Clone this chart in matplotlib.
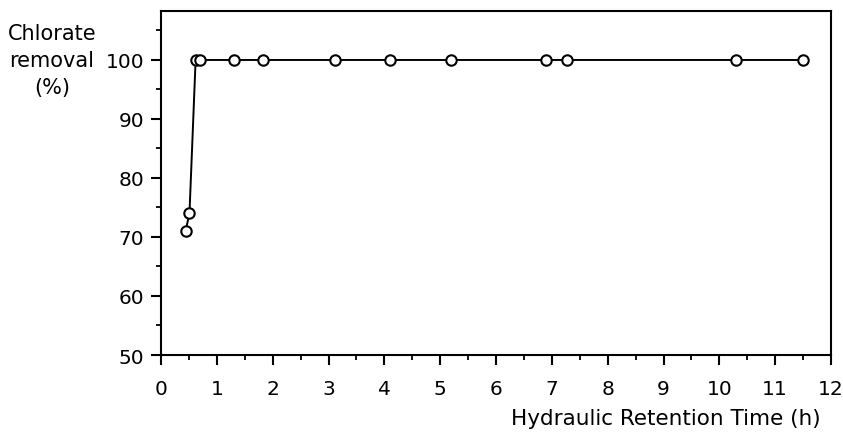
import matplotlib
matplotlib.use("Agg")
import matplotlib.pyplot as plt
from matplotlib.ticker import MultipleLocator

# hydraulic retention time (h) and chlorate removal (%)
hrt = [0.44, 0.51, 0.62, 0.69, 1.31, 1.82, 3.12, 4.1, 5.2, 6.9, 7.28, 10.3, 11.5]
removal = [71.0, 74.0, 100, 100, 100, 100, 100, 100, 100, 100, 100, 100, 100]

x_ticks = list(range(0, 13))
y_ticks = [50, 60, 70, 80, 90, 100]

plt.rcParams['font.family'] = ['DejaVu Sans']

fig = plt.figure(figsize=(8.43, 4.35), dpi=100)
ax = fig.add_axes([161 / 843, 1 - 356 / 435, 670 / 843, 344 / 435])

ax.plot(hrt, removal, color='black', lw=1.4, marker='o', markersize=7.5,
        markerfacecolor='white', markeredgecolor='black', markeredgewidth=1.5,
        zorder=3, clip_on=False)

ax.set_xlim(0, 12)
ax.set_ylim(50, 108.3)
ax.set_xticks(x_ticks)
ax.set_yticks(y_ticks)
ax.xaxis.set_minor_locator(MultipleLocator(0.5))
ax.yaxis.set_minor_locator(MultipleLocator(5))

for s in ax.spines.values():
    s.set_linewidth(1.5)
ax.tick_params(which='major', direction='out', length=7, width=1.5,
               labelsize=14.5)
ax.tick_params(axis='x', which='major', pad=10)
ax.tick_params(axis='y', which='major', pad=5)
ax.tick_params(which='minor', direction='out', length=3.5, width=1.3)

fig.text(52 / 843, 1 - 61 / 435, "Chlorate\nremoval\n(%)", ha='center',
         va='center', multialignment='center', fontsize=15, linespacing=1.45)
fig.text(821 / 843, 1 - 425 / 435, "Hydraulic Retention Time (h)", ha='right',
         va='baseline', fontsize=15.5)

fig.savefig("out.png", dpi=100)
